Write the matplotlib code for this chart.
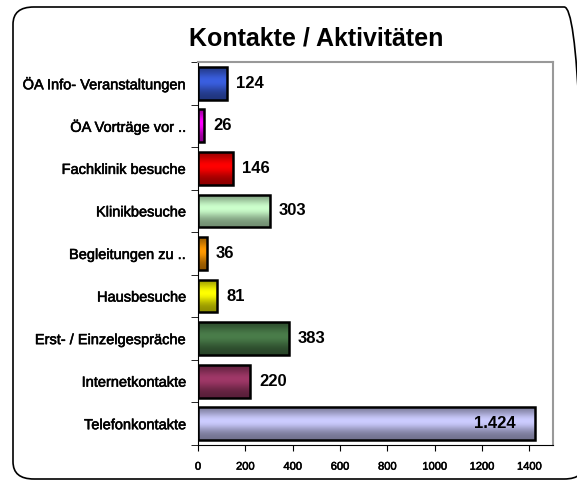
import numpy as np
import matplotlib.pyplot as plt
import matplotlib.patheffects as pe
from matplotlib.patches import Rectangle, FancyBboxPatch
from matplotlib.colors import to_rgb

categories = ['ÖA Info- Veranstaltungen', 'ÖA Vorträge vor ..', 'Fachklinik besuche',
              'Klinikbesuche', 'Begleitungen zu ..', 'Hausbesuche',
              'Erst- / Einzelgespräche', 'Internetkontakte', 'Telefonkontakte']
values = [124, 26, 146, 303, 36, 81, 383, 220, 1424]
value_labels = ['124', '26', '146', '303', '36', '81', '383', '220', '1.424']
colors = ['#3a5fe0', '#ff00ff', '#ff0000', '#ccffcc', '#ff9900', '#ffff00',
          '#4a7d4a', '#a03868', '#ccccff']

plt.rcParams['font.family'] = ['Liberation Sans', 'DejaVu Sans']

fig = plt.figure(figsize=(5.77, 4.8), dpi=100)

# rounded outer frame (right side runs off the image)
frame = FancyBboxPatch((13 / 577, 1 / 480), 572 / 577, 472 / 480,
                       boxstyle='round,pad=0,rounding_size=0.036',
                       transform=fig.transFigure, fill=False, ec='black', lw=1.2)
fig.patches.append(frame)

ax = fig.add_axes([198 / 577, 1 - 445 / 480, 355 / 577, 383 / 480])

# vertical shading profile for a 3D-like bar
prof = np.linspace(0, 1, 64)
shade = 0.55 + 0.45 * np.exp(-((prof - 0.42) / 0.3) ** 2)

thick = [pe.withStroke(linewidth=0.4, foreground='black')]

h = 0.77
n = len(categories)
for i, (v, c) in enumerate(zip(values, colors)):
    y = n - 1 - i
    base = np.array(to_rgb(c))
    img = np.clip(shade[:, None] * base[None, :], 0, 1)[:, None, :]
    im = ax.imshow(img, extent=[0, v, y - h / 2, y + h / 2], aspect='auto',
                   origin='upper', zorder=2)
    rect = Rectangle((0, y - h / 2), v, h, fill=False, ec='black', lw=1.8, zorder=3)
    ax.add_patch(rect)
    im.set_clip_path(rect)
    if v > 1000:
        ax.text(v - 80, y, value_labels[i], ha='right', va='center',
                fontsize=12, fontweight='bold', zorder=4)
    else:
        ax.text(v + 38, y, value_labels[i], ha='left', va='center',
                fontsize=12, fontweight='bold', zorder=4)

ax.set_xlim(0, 1500)
ax.set_ylim(-0.5, n - 0.5)
ax.set_xticks(range(0, 1401, 200))
ax.set_xticklabels([str(t) for t in range(0, 1401, 200)], fontsize=8)
ax.set_yticks(range(n))
ax.set_yticklabels(categories[::-1], fontsize=10.5)
for t in ax.get_yticklabels() + ax.get_xticklabels():
    t.set_path_effects(thick)
ax.tick_params(axis='y', length=0, pad=8)
ax.set_yticks(np.arange(-0.5, n, 1), minor=True)
ax.tick_params(axis='y', which='minor', length=5, direction='out')
ax.tick_params(axis='x', length=4, direction='out', pad=8)

for s in ['top', 'right']:
    ax.spines[s].set_color('#999999')
    ax.spines[s].set_linewidth(1.5)
ax.spines['left'].set_color('black')
ax.spines['bottom'].set_color('black')

fig.text(316 / 577, 1 - 38 / 480, 'Kontakte / Aktivitäten', ha='center', va='center',
         fontsize=18, fontweight='bold')

fig.savefig('out.png', dpi=100)
